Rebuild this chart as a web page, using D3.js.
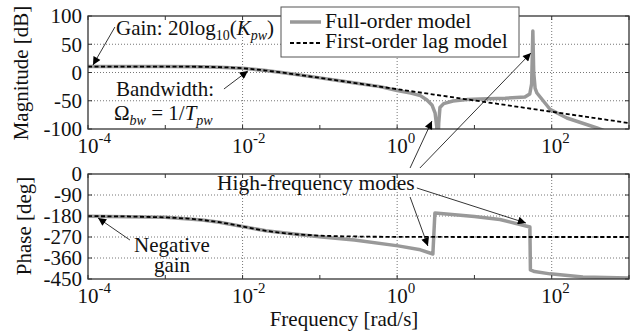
<!DOCTYPE html>
<html>
<head>
<meta charset="utf-8">
<script src="https://cdn.jsdelivr.net/npm/d3@7"></script>
<style>
  body { margin: 0; background: #fff; }
  svg { display: block; }
</style>
</head>
<body>
<div class="bode"></div>
<script>
// first-order lag model
const lagFreq = [1e-4, 3e-4, 1e-3, 2e-3, 3e-3, 5e-3, 7e-3, 1e-2, 1.5e-2, 2e-2, 3e-2, 5e-2, 1e-1, 2e-1, 5e-1, 1, 3, 10, 30, 100, 300, 1000]
const lagMag = [10.5, 10.5, 10.46, 10.33, 10.1, 9.5, 8.8, 7.5, 5.4, 3.5, 0.5, -3.6, -9.5, -15.5, -23.5, -29.5, -39, -49.5, -59, -69.5, -79, -89.5]
const lagPhase = [-180.6, -181.7, -185.7, -191.3, -196.7, -206.6, -215, -225, -236.3, -243.4, -251.6, -258.7, -264.3, -267.1, -268.9, -269.4, -269.8, -270, -270, -270, -270, -270]

// full-order model
const fullMagFreq = [1e-4, 1e-3, 3e-3, 5e-3, 1e-2, 2e-2, 3e-2, 5e-2, 0.1, 0.2, 0.3, 0.6, 1.0, 1.5, 2.0, 2.43, 2.82, 3.1, 3.25, 3.3, 3.4, 3.45, 3.58, 4.0, 5.27, 8, 11.8, 25, 45, 52, 55, 57, 58.5, 61, 64.4, 95, 157, 385, 500]
const fullMag = [10.5, 10.46, 10.1, 9.5, 7.5, 3.5, 0.5, -3.6, -9.5, -15.5, -19, -25, -32, -36.5, -41, -48.7, -57.5, -72, -95, -120, -120, -90, -62, -55, -50.4, -48, -46.9, -45.5, -43.4, -38, -20, 73.5, 0, -28, -36.3, -65, -80.5, -98.2, -104]
const fullPhaseFreq = [1e-4, 1e-3, 3e-3, 5e-3, 1e-2, 2e-2, 5e-2, 0.106, 0.28, 1.03, 2.0, 2.9, 3.08, 3.37, 10, 21.4, 52.2, 53, 60, 95, 253, 1000]
const fullPhase = [-180.6, -185.7, -196.7, -206.6, -225, -243.4, -258.7, -270, -283, -308, -325, -343, -167, -168.4, -182, -195, -227, -411, -418, -428, -441, -446]

// axes
const freqTicks = [1e-4, 1e-2, 1, 1e2]
const freqExp = ["-4", "-2", "0", "2"]
const magTicks = [100, 50, 0, -50, -100]
const phaseTicks = [0, -90, -180, -270, -360, -450]

const width = 644
const height = 334
const left = 88, right = 629
const fs = "21px"

const x = d3.scaleLog().domain([1e-4, 1e3]).range([left, right])
const yMag = d3.scaleLinear().domain([-100, 100]).range([129, 16])
const yPh = d3.scaleLinear().domain([-450, 0]).range([279, 174])

const svg = d3.select(".bode").append("svg")
  .attr("width", width)
  .attr("height", height)
  .attr("font-family", "'Liberation Serif', 'DejaVu Serif', serif")
  .attr("fill", "#111")

const defs = svg.append("defs")
defs.append("marker")
  .attr("id", "head")
  .attr("viewBox", "0 0 10 10")
  .attr("refX", 10).attr("refY", 5)
  .attr("markerWidth", 13).attr("markerHeight", 8)
  .attr("markerUnits", "userSpaceOnUse")
  .attr("orient", "auto")
  .append("path").attr("d", "M0,0L10,5L0,10z").attr("fill", "#000")

function panel(id, y, ticks, lines) {
  const top = y.range()[1], bottom = y.range()[0]
  defs.append("clipPath").attr("id", id)
    .append("rect").attr("x", left).attr("y", top).attr("width", right - left).attr("height", bottom - top)

  const g = svg.append("g")

  // grid
  g.selectAll(".hgrid").data(ticks.slice(1, -1)).enter().append("line")
    .attr("x1", left).attr("x2", right)
    .attr("y1", d => y(d)).attr("y2", d => y(d))
    .attr("stroke", "#777").attr("stroke-width", 1).attr("stroke-dasharray", "1,2")
  g.selectAll(".vgrid").data(freqTicks.slice(1)).enter().append("line")
    .attr("x1", d => x(d)).attr("x2", d => x(d))
    .attr("y1", top).attr("y2", bottom)
    .attr("stroke", "#777").attr("stroke-width", 1).attr("stroke-dasharray", "1,2")

  // curves
  const plot = g.append("g").attr("clip-path", "url(#" + id + ")")
  lines.forEach(function(l) {
    plot.append("path")
      .datum(d3.zip(l.f, l.v))
      .attr("d", d3.line().x(d => x(d[0])).y(d => y(d[1])))
      .attr("fill", "none")
      .attr("stroke", l.color)
      .attr("stroke-width", l.w)
      .attr("stroke-dasharray", l.dash)
      .attr("stroke-linejoin", "round")
  })

  // ticks
  g.selectAll(".xt").data(d3.range(-4, 4).map(e => Math.pow(10, e))).enter().append("path")
    .attr("d", d => "M" + x(d) + "," + bottom + "v-4M" + x(d) + "," + top + "v4")
    .attr("stroke", "#333")
  g.selectAll(".yt").data(ticks).enter().append("path")
    .attr("d", d => "M" + left + "," + y(d) + "h4M" + right + "," + y(d) + "h-4")
    .attr("stroke", "#333")

  // frame
  g.append("rect")
    .attr("x", left).attr("y", top).attr("width", right - left).attr("height", bottom - top)
    .attr("fill", "none").attr("stroke", "#333").attr("stroke-width", 1.3)

  // tick labels
  g.selectAll(".yl").data(ticks).enter().append("text")
    .attr("x", left - 6).attr("y", d => y(d)).attr("dy", "0.35em")
    .attr("text-anchor", "end").style("font-size", fs)
    .text(d => d)

  const xl = g.selectAll(".xl").data(freqTicks).enter().append("text")
    .attr("x", d => x(d) - 10.5).attr("y", bottom + 24)
    .style("font-size", fs)
  xl.append("tspan").text("10")
  xl.append("tspan").attr("dy", -10).style("font-size", "15px").text((d, i) => freqExp[i])
  return g
}

panel("clipMag", yMag, magTicks, [
  {f: fullMagFreq, v: fullMag, color: "#999", w: 3.5, dash: null},
  {f: lagFreq, v: lagMag, color: "#000", w: 1.8, dash: "4,2.5"}
])
panel("clipPh", yPh, phaseTicks, [
  {f: fullPhaseFreq, v: fullPhase, color: "#999", w: 3.5, dash: null},
  {f: lagFreq, v: lagPhase, color: "#000", w: 1.8, dash: "4,2.5"}
])

// axis titles
svg.append("text")
  .attr("transform", "translate(28,73) rotate(-90)")
  .attr("text-anchor", "middle").style("font-size", fs)
  .text("Magnitude [dB]")
svg.append("text")
  .attr("transform", "translate(31,226) rotate(-90)")
  .attr("text-anchor", "middle").style("font-size", fs)
  .text("Phase [deg]")
svg.append("text")
  .attr("x", 344).attr("y", 326)
  .attr("text-anchor", "middle").style("font-size", fs)
  .text("Frequency [rad/s]")

// legend
const legend = svg.append("g")
legend.append("rect")
  .attr("x", 281).attr("y", 7).attr("width", 238).attr("height", 50)
  .attr("fill", "#fff").attr("stroke", "#555").attr("stroke-width", 1)
legend.append("line")
  .attr("x1", 290).attr("x2", 321).attr("y1", 22).attr("y2", 22)
  .attr("stroke", "#999").attr("stroke-width", 3.5)
legend.append("line")
  .attr("x1", 290).attr("x2", 321).attr("y1", 43).attr("y2", 43)
  .attr("stroke", "#000").attr("stroke-width", 1.8).attr("stroke-dasharray", "4,2.5")
legend.append("text").attr("x", 325).attr("y", 28).style("font-size", "21.5px").text("Full-order model")
legend.append("text").attr("x", 325).attr("y", 48).style("font-size", "21.5px").text("First-order lag model")

// annotation arrows: [f0, v0, f1, v1]
const magArrows = [
  [2.23e-4, 80.5, 1.16e-4, 13.3],
  [5.74e-3, -29.2, 1.17e-2, 2.7],
  [1.47, -169, 2.82, -85.8],
  [1.97, -169, 53.8, 34.5]
]
const phaseArrows = [
  [3.49e-4, -283, 1.35e-4, -188.6],
  [1.80, -60, 46.4, -210],
  [1.47, -98.6, 2.50, -308.6]
]
function arrows(data, y) {
  svg.selectAll(null).data(data).enter().append("line")
    .attr("x1", d => x(d[0])).attr("y1", d => y(d[1]))
    .attr("x2", d => x(d[2])).attr("y2", d => y(d[3]))
    .attr("stroke", "#000").attr("stroke-width", 0.8)
    .attr("marker-end", "url(#head)")
}
arrows(magArrows, yMag)
arrows(phaseArrows, yPh)

// annotation texts
const gain = svg.append("text").attr("x", 116).attr("y", 35).style("font-size", fs)
gain.append("tspan").text("Gain: 20log")
gain.append("tspan").attr("dy", 5).style("font-size", "14px").text("10")
gain.append("tspan").attr("dy", -5).text("(")
gain.append("tspan").style("font-style", "italic").text("K")
gain.append("tspan").attr("dy", 5).style("font-size", "14px").style("font-style", "italic").text("pw")
gain.append("tspan").attr("dy", -5).text(")")

svg.append("text").attr("x", 116).attr("y", 96).style("font-size", fs).text("Bandwidth:")
const bw = svg.append("text").attr("x", 114).attr("y", 120).style("font-size", fs)
bw.append("tspan").text("Ω")
bw.append("tspan").attr("dy", 5).style("font-size", "14px").style("font-style", "italic").text("bw")
bw.append("tspan").attr("dy", -5).text(" = 1/")
bw.append("tspan").style("font-style", "italic").text("T")
bw.append("tspan").attr("dy", 5).style("font-size", "14px").style("font-style", "italic").text("pw")

svg.append("text").attr("x", 217).attr("y", 190).style("font-size", "21.5px").text("High-frequency modes")
svg.append("text").attr("x", 172).attr("y", 252).attr("text-anchor", "middle").style("font-size", fs).text("Negative")
svg.append("text").attr("x", 172).attr("y", 272).attr("text-anchor", "middle").style("font-size", fs).text("gain")
</script>
</body>
</html>
